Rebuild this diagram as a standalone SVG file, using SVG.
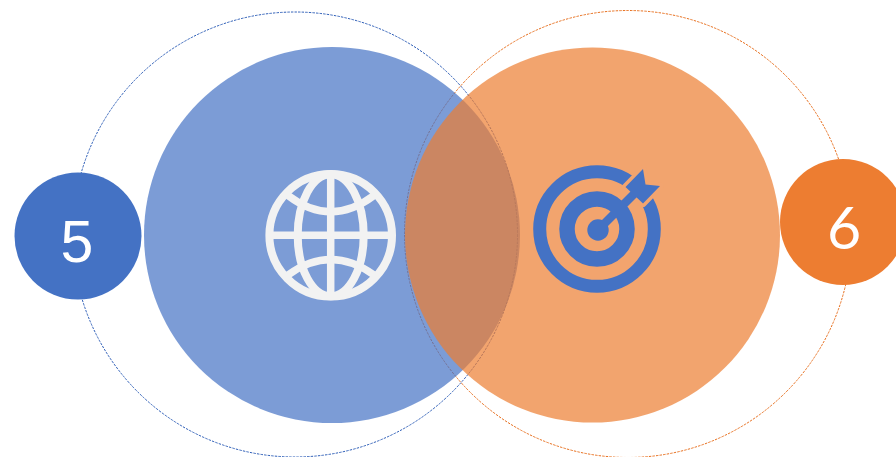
<svg xmlns="http://www.w3.org/2000/svg" width="896" height="457" viewBox="0 0 896 457">
<style>
.dash{fill:none;stroke-width:1;stroke-dasharray:2.4 1.2}
.big{opacity:.7}
.num{fill:#fff;font-size:59px;text-anchor:middle}
.g{fill:none;stroke:#f2f2f2}
</style>
<rect width="896" height="457" fill="#fff"/>
<g id="connectors">
<circle class="dash" cx="295" cy="234.5" r="222.5" stroke="#2f5fb8"/>
<circle class="dash" cx="628" cy="234" r="223.5" stroke="#e8701f"/>
</g>
<g id="node-blue"><circle class="big" cx="332" cy="235" r="188" fill="#4472c4"/></g>
<g id="node-orange"><circle class="big" cx="592.5" cy="235" r="187.5" fill="#ed7d31"/></g>
<g id="node-5"><circle cx="78" cy="236" r="63.5" fill="#4472c4"/><text class="num" x="77" y="262" font-family="'Liberation Sans',Arial,sans-serif">5</text></g>
<g id="node-6"><circle cx="843" cy="222" r="63" fill="#ed7d31"/><text class="num" x="844" y="249" font-family="Lato,'Liberation Sans',sans-serif">6</text></g>
<g id="globe" class="g">
<circle cx="330.7" cy="235.3" r="61.3" stroke-width="8"/>
<ellipse cx="330.7" cy="235.3" rx="33" ry="61" stroke-width="8"/>
<path d="M269 235.3H392M330.7 174V297" stroke-width="7.5"/>
<path d="M288 195.5Q330.7 228 374 195.5M288 275Q330.7 244 374 275" stroke-width="7.5"/>
</g>
<g id="target">
<circle cx="597" cy="229" r="57.3" fill="none" stroke="#4472c4" stroke-width="13"/>
<circle cx="597" cy="229" r="30" fill="none" stroke="#4472c4" stroke-width="15.5"/>
<path d="M625.5 187L643 169L645.500 184.500L660 186L643 203.500Z" fill="#4472c4" stroke="#f2a46f" stroke-width="7" stroke-linejoin="round" paint-order="stroke"/>
<circle cx="598" cy="230" r="10.7" fill="#4472c4"/>
<path d="M598 230L636 192" stroke="#4472c4" stroke-width="8.5"/>
</g>
</svg>
